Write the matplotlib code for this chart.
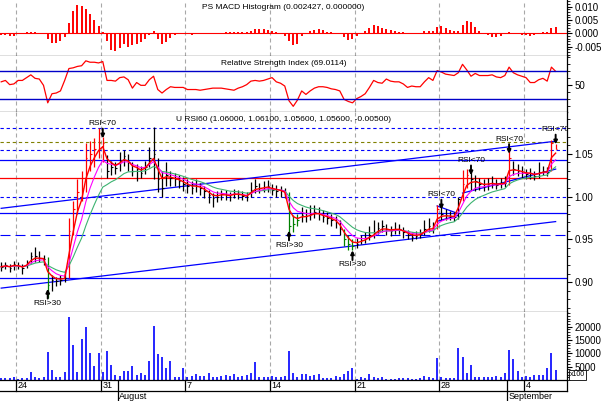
import matplotlib
matplotlib.use("Agg")
import numpy as np
import pandas as pd
import matplotlib.pyplot as plt
from matplotlib.ticker import FixedLocator, MultipleLocator, FormatStrFormatter

plt.rcParams['font.family'] = ['Liberation Sans', 'DejaVu Sans']

# 33 trading days (21 Jul - 5 Sep 2000), 4 bars per day
days = pd.bdate_range('2000-07-21', periods=33)
per_day = 4

close = [0.918, 0.920, 0.917, 0.921, 0.919, 0.916, 0.922, 0.930, 0.931, 0.928,
         0.927, 0.897, 0.902, 0.901, 0.903, 0.905, 0.960, 0.985, 1.005, 1.010,
         1.045, 1.050, 1.055, 1.062, 1.063, 1.030, 1.035, 1.033, 1.042, 1.047,
         1.040, 1.030, 1.032, 1.028, 1.035, 1.045, 1.050, 1.020, 1.010, 1.025,
         1.022, 1.020, 1.018, 1.015, 1.012, 1.010, 1.012, 1.010, 1.006, 1.002,
         0.998, 1.000, 1.003, 1.002, 1.000, 1.004, 1.003, 1.001, 0.999, 1.008,
         1.012, 1.010, 1.011, 1.012, 1.008, 1.007, 1.006, 1.003, 0.965, 0.968,
         0.972, 0.978, 0.977, 0.979, 0.982, 0.980, 0.976, 0.975, 0.972, 0.970,
         0.962, 0.950, 0.945, 0.942, 0.945, 0.949, 0.951, 0.955, 0.958, 0.963,
         0.965, 0.962, 0.960, 0.962, 0.962, 0.958, 0.955, 0.953, 0.954, 0.956,
         0.962, 0.965, 0.963, 0.985, 0.980, 0.978, 0.977, 0.976, 0.997, 1.015,
         1.025, 1.020, 1.018, 1.015, 1.012, 1.015, 1.016, 1.014, 1.015, 1.016,
         1.045, 1.032, 1.030, 1.028, 1.026, 1.027, 1.024, 1.028, 1.030, 1.029,
         1.062, 1.056]
high = [0.923, 0.924, 0.921, 0.925, 0.923, 0.921, 0.926, 0.935, 0.941, 0.936,
        0.932, 0.929, 0.908, 0.906, 0.908, 0.912, 0.975, 0.995, 1.020, 1.030,
        1.062, 1.065, 1.068, 1.080, 1.070, 1.048, 1.042, 1.040, 1.052, 1.054,
        1.050, 1.040, 1.038, 1.036, 1.042, 1.058, 1.081, 1.045, 1.030, 1.040,
        1.030, 1.028, 1.025, 1.023, 1.020, 1.018, 1.020, 1.016, 1.012, 1.008,
        1.004, 1.006, 1.008, 1.008, 1.005, 1.009, 1.008, 1.006, 1.005, 1.017,
        1.020, 1.016, 1.018, 1.019, 1.015, 1.013, 1.012, 1.010, 1.005, 0.978,
        0.980, 0.988, 0.985, 0.990, 0.990, 0.988, 0.984, 0.982, 0.979, 0.977,
        0.972, 0.962, 0.955, 0.950, 0.952, 0.955, 0.958, 0.965, 0.972, 0.970,
        0.972, 0.968, 0.966, 0.970, 0.968, 0.964, 0.961, 0.958, 0.960, 0.962,
        0.972, 0.975, 0.970, 0.990, 0.990, 0.985, 0.983, 0.982, 1.000, 1.031,
        1.032, 1.030, 1.025, 1.022, 1.020, 1.022, 1.024, 1.020, 1.022, 1.024,
        1.059, 1.042, 1.038, 1.036, 1.032, 1.033, 1.030, 1.040, 1.036, 1.035,
        1.066, 1.061]
low = [0.913, 0.915, 0.912, 0.914, 0.915, 0.909, 0.916, 0.922, 0.924, 0.923,
       0.920, 0.881, 0.890, 0.896, 0.897, 0.900, 0.905, 0.955, 0.980, 0.995,
       1.005, 1.030, 1.035, 1.045, 1.040, 1.022, 1.025, 1.026, 1.030, 1.036,
       1.030, 1.024, 1.018, 1.022, 1.026, 1.035, 1.020, 1.005, 1.000, 1.012,
       1.012, 1.012, 1.010, 1.006, 1.004, 1.003, 1.005, 1.002, 0.998, 0.992,
       0.988, 0.994, 0.996, 0.996, 0.995, 0.998, 0.997, 0.996, 0.995, 1.000,
       1.004, 1.004, 1.005, 1.005, 1.002, 1.000, 1.000, 0.998, 0.955, 0.958,
       0.965, 0.970, 0.970, 0.972, 0.975, 0.973, 0.970, 0.968, 0.965, 0.963,
       0.955, 0.942, 0.938, 0.937, 0.940, 0.944, 0.946, 0.949, 0.952, 0.956,
       0.958, 0.955, 0.954, 0.956, 0.956, 0.952, 0.950, 0.948, 0.950, 0.951,
       0.955, 0.958, 0.957, 0.962, 0.973, 0.972, 0.972, 0.971, 0.974, 0.995,
       1.010, 1.008, 1.006, 1.008, 1.006, 1.008, 1.010, 1.009, 1.010, 1.011,
       1.014, 1.025, 1.024, 1.022, 1.020, 1.020, 1.019, 1.022, 1.025, 1.024,
       1.030, 1.055]
volume = [600, 700, 900, 1200, 500, 600, 700, 3100, 1000, 900,
          1000, 10600, 3750, 1000, 1000, 3100, 23500, 13100, 3100, 15250,
          20000, 10250, 5250, 10000, 3000, 11000, 5600, 2000, 1500, 3400,
          3400, 5250, 2000, 2800, 2000, 7250, 20250, 9600, 8750, 4400,
          7100, 1000, 1000, 4600, 1200, 1500, 2300, 1500, 1500, 2800,
          1200, 1200, 1500, 2000, 1500, 2300, 1200, 1500, 2000, 2500,
          6900, 1000, 1200, 1000, 1500, 1000, 1200, 1500, 10900, 2500,
          1000, 2300, 2300, 1500, 1900, 2200, 800, 600, 600, 1500,
          1000, 2300, 3500, 4600, 500, 1000, 600, 2300, 1200, 600,
          1000, 500, 500, 500, 600, 800, 600, 500, 300, 600,
          1500, 1200, 600, 8400, 1000, 800, 600, 600, 12100, 8750,
          2750, 5600, 1200, 1000, 1200, 1000, 1200, 1500, 1000, 2500,
          11250, 7900, 3400, 1200, 1500, 1200, 2000, 1800, 2000, 4400,
          10000, 3750]
macd_hist = [-0.0006, -0.0008, -0.0009, -0.0012, -0.0004, 0.0000, 0.0003, 0.0004, 0.0003, 0.0001,
             0.0000, -0.0020, -0.0037, -0.0035, -0.0028, -0.0015, 0.0040, 0.0085, 0.0106, 0.0104,
             0.0090, 0.0072, 0.0050, 0.0028, 0.0005, -0.0030, -0.0062, -0.0068, -0.0055, -0.0040,
             -0.0050, -0.0045, -0.0040, -0.0032, -0.0020, -0.0008, 0.0010, -0.0022, -0.0040, -0.0032,
             -0.0018, -0.0005, 0.0002, 0.0001, -0.0002, -0.0005, -0.0003, 0.0000, 0.0001, 0.0000,
             0.0001, 0.0000, -0.0001, 0.0003, 0.0005, 0.0004, 0.0005, 0.0003, 0.0005, 0.0010,
             0.0015, 0.0017, 0.0016, 0.0012, 0.0008, 0.0003, -0.0002, -0.0010, -0.0030, -0.0045,
             -0.0040, -0.0010, -0.0003, 0.0008, 0.0014, 0.0015, 0.0012, 0.0006, 0.0003, 0.0000,
             -0.0004, -0.0015, -0.0024, -0.0022, -0.0012, -0.0002, 0.0008, 0.0020, 0.0031, 0.0026,
             0.0020, 0.0016, 0.0014, 0.0010, 0.0006, 0.0003, 0.0000, -0.0001, 0.0000, 0.0002,
             0.0010, 0.0008, 0.0009, 0.0025, 0.0026, 0.0020, 0.0014, 0.0010, 0.0008, 0.0030,
             0.0045, 0.0043, 0.0025, 0.0008, -0.0003, -0.0008, -0.0013, -0.0015, -0.0012, -0.0004,
             0.0003, 0.0002, 0.0000, -0.0006, -0.0008, -0.0012, -0.0005, 0.0000, 0.0003, 0.0005,
             0.0018, 0.0024]
rsi = [55, 57, 51, 52, 57, 57, 61, 65, 60, 59,
       50, 25, 38, 39, 42, 57, 74, 75, 77, 78,
       85, 83, 83, 82, 84, 57, 57, 56, 61, 62,
       58, 46, 54, 50, 50, 58, 63, 44, 39, 44,
       48, 47, 47, 47, 44, 44, 44, 43, 44, 45,
       46, 46, 46, 45, 44, 43, 46, 48, 51, 56,
       57, 56, 57, 59, 61, 55, 53, 49, 28, 20,
       29, 42, 37, 42, 46, 48, 48, 47, 45, 44,
       42, 30, 27, 25, 31, 34, 38, 47, 57, 54,
       53, 59, 56, 55, 55, 52, 47, 49, 48, 48,
       55, 61, 57, 71, 69, 66, 65, 64, 68, 80,
       72, 63, 67, 64, 64, 64, 65, 62, 61, 64,
       76, 68, 65, 63, 61, 54, 54, 58, 60, 56,
       76, 70]

# horizontal study levels
levels = [1.0804, 1.0637, 1.0547, 1.0423, 1.0220, 1.0000, 0.9807, 0.9547, 0.9048]
# trend lines: (bar, price) -> (bar, price)
trend_lines = [((0, 0.9862), (131, 1.0646)),
               ((0, 0.8930), (131, 0.9707)),
               ((109, 1.004), (131, 1.032)),
               ((103, 0.989), (108, 0.980)),
               ((103, 0.971), (108, 0.978))]
rsi_up_bars = [11, 68, 83]
rsi_down_bars = [24, 104, 111, 120, 131]

n = len(close)
t = np.arange(n) / per_day + 0.5 / per_day
cs = pd.Series(close)
ma_fast = cs.ewm(span=3, adjust=False).mean()
ma_mid = cs.ewm(span=6, adjust=False).mean()
ma_slow = cs.ewm(span=12, adjust=False).mean()
r = np.array(rsi)
bar_col = np.where(r >= 70, '#ff0000', np.where(r <= 30, '#008000', 'black'))

mondays = [k for k, d in enumerate(days) if d.dayofweek == 0]
month_starts = [k for k in range(1, len(days)) if days[k].month != days[k - 1].month]

# pixel layout
W, H, R = 602, 401, 567
px_day = 16.93
x0 = mondays[0] - 16 / px_day
x1 = x0 + R / px_day

fig = plt.figure(figsize=(W / 100, H / 100), dpi=100)


def panel(top, bot):
    ax = fig.add_axes([0, 1 - bot / H, R / W, (bot - top) / H])
    ax.set_xlim(x0, x1)
    ax.spines['left'].set_visible(False)
    ax.spines['top'].set_visible(False)
    ax.spines['right'].set_linewidth(0.9)
    ax.spines['bottom'].set_linewidth(0.9)
    ax.set_xticks([])
    ax.yaxis.tick_right()
    ax.tick_params(axis='y', which='major', direction='out', length=3.5, width=0.8,
                   labelsize=7, pad=2)
    ax.tick_params(axis='y', which='minor', direction='out', length=2, width=0.6)
    for k in mondays:
        ax.axvline(k, color='#a8a8a8', lw=0.8, dashes=(3.6, 2.7), zorder=0)
    return ax


def title(ax, s):
    ax.annotate(s, (0.5, 1), xycoords='axes fraction', xytext=(0, -5.3),
                textcoords='offset points', ha='center', va='center', fontsize=6)


ax_m = panel(0, 56)
ax_r = panel(56, 112)
ax_p = panel(112, 312)
ax_v = panel(312, 380)

# MACD histogram
ax_m.vlines(t, 0, macd_hist, color='#ff0000', lw=1.4)
ax_m.axhline(0, color='#ff0000', lw=0.8)
ax_m.set_ylim(-0.00853, 0.0125)
ax_m.yaxis.set_major_locator(FixedLocator([-0.005, 0.0, 0.005, 0.010]))
ax_m.yaxis.set_major_formatter(FormatStrFormatter('%.3f'))
ax_m.yaxis.set_minor_locator(MultipleLocator(0.001))
title(ax_m, 'PS MACD Histogram (0.002427, 0.000000)')

# RSI
ax_r.plot(t, rsi, color='#ff0000', lw=0.9)
ax_r.axhline(70, color='#0000c8', lw=1.0)
ax_r.axhline(30, color='#0000c8', lw=1.0)
ax_r.set_ylim(11.9, 91.9)
ax_r.yaxis.set_major_locator(FixedLocator([50]))
ax_r.yaxis.set_minor_locator(MultipleLocator(10))
title(ax_r, 'Relative Strength Index (69.0114)')

# price panel
short, long_ = (3, 2.5), (9, 4.5)
level_fmt = [('#0000ff', short), ('#808000', short), ('#0000ff', short), ('#0000ff', None),
             ('#ff0000', None), ('#0000ff', short), ('#0000ff', None), ('#0000ff', long_),
             ('#0000ff', None)]
for lv, (c, d) in zip(levels, level_fmt):
    if d is None:
        ax_p.axhline(lv, color=c, lw=0.9, zorder=1)
    else:
        ax_p.axhline(lv, color=c, lw=0.8, dashes=d, zorder=1)
for (b0, p0), (b1, p1) in trend_lines:
    ax_p.plot([t[b0], t[b1]], [p0, p1], color='#0000ff', lw=0.9, zorder=1)

ax_p.vlines(t, low, high, colors=bar_col, lw=0.9, zorder=2)
ax_p.hlines(close, t, t + 0.09, colors=bar_col, lw=0.8, zorder=2)
ax_p.plot(t, ma_slow, color='#3cb371', lw=0.8, zorder=3)
ax_p.plot(t, ma_mid, color='#ff00ff', lw=0.8, zorder=3)
ax_p.plot(t, ma_fast, color='#ff0000', lw=1.0, zorder=3)
ax_p.set_ylim(0.8651, 1.0987)
ax_p.yaxis.set_major_locator(FixedLocator([0.90, 0.95, 1.00, 1.05]))
ax_p.yaxis.set_major_formatter(FormatStrFormatter('%.2f'))
ax_p.yaxis.set_minor_locator(MultipleLocator(0.01))
title(ax_p, 'U RSI60 (1.06000, 1.06100, 1.05600, 1.05600, -0.00500)')


def signal(i, label, up):
    sgn = -1 if up else 1
    ax_p.annotate('', xy=(t[i], close[i]), xytext=(0, sgn * 10), textcoords='offset points',
                  arrowprops=dict(arrowstyle='-|>', color='k', lw=1.4, shrinkA=0, shrinkB=3,
                                  mutation_scale=5), zorder=5)
    txt = ax_p.annotate(label, xy=(t[i], close[i]), xytext=(0, sgn * 11),
                        textcoords='offset points', ha='center',
                        va='top' if up else 'bottom', fontsize=6, zorder=5)
    txt.set_clip_on(True)
    txt.set_clip_box(ax_p.bbox)


for i in rsi_up_bars:
    signal(i, 'RSI>30', True)
for i in rsi_down_bars:
    signal(i, 'RSI<70', False)

# volume
ax_v.vlines(t, 0, volume, color='#0000ff', lw=1.2)
ax_v.set_ylim(0, 25500)
ax_v.yaxis.set_major_locator(FixedLocator([5000, 10000, 15000, 20000]))
ax_v.yaxis.set_major_formatter(FormatStrFormatter('%d'))
ax_v.yaxis.set_minor_locator(MultipleLocator(1000))
fig.text(577.5 / W, 1 - 375 / H, 'x100', fontsize=5, ha='center', va='center',
         bbox=dict(boxstyle='square,pad=0.2', fc='white', ec='black', lw=0.6))

# date scale
ax_d = fig.add_axes([0, 0, R / W, 21 / H])
ax_d.set_xlim(x0, x1)
ax_d.set_ylim(0, 1)
ax_d.axis('off')
mid = 10 / 21
ax_d.plot([x0, x1], [mid, mid], color='k', lw=0.9, clip_on=False)
ax_d.plot([x1, x1], [mid, 1], color='k', lw=0.9, clip_on=False)
for k in mondays:
    ax_d.plot([k, k], [mid, 1], color='k', lw=0.9, clip_on=False)
    ax_d.text(k + 0.1, 0.74, str(days[k].day), fontsize=6.5, va='center', ha='left')
for k in month_starts:
    ax_d.plot([k, k], [0, 1], color='k', lw=0.9, clip_on=False)
    ax_d.text(k + 0.1, 0.22, days[k].strftime('%B'), fontsize=6.5, va='center', ha='left')

fig.savefig('out.png', dpi=100)
